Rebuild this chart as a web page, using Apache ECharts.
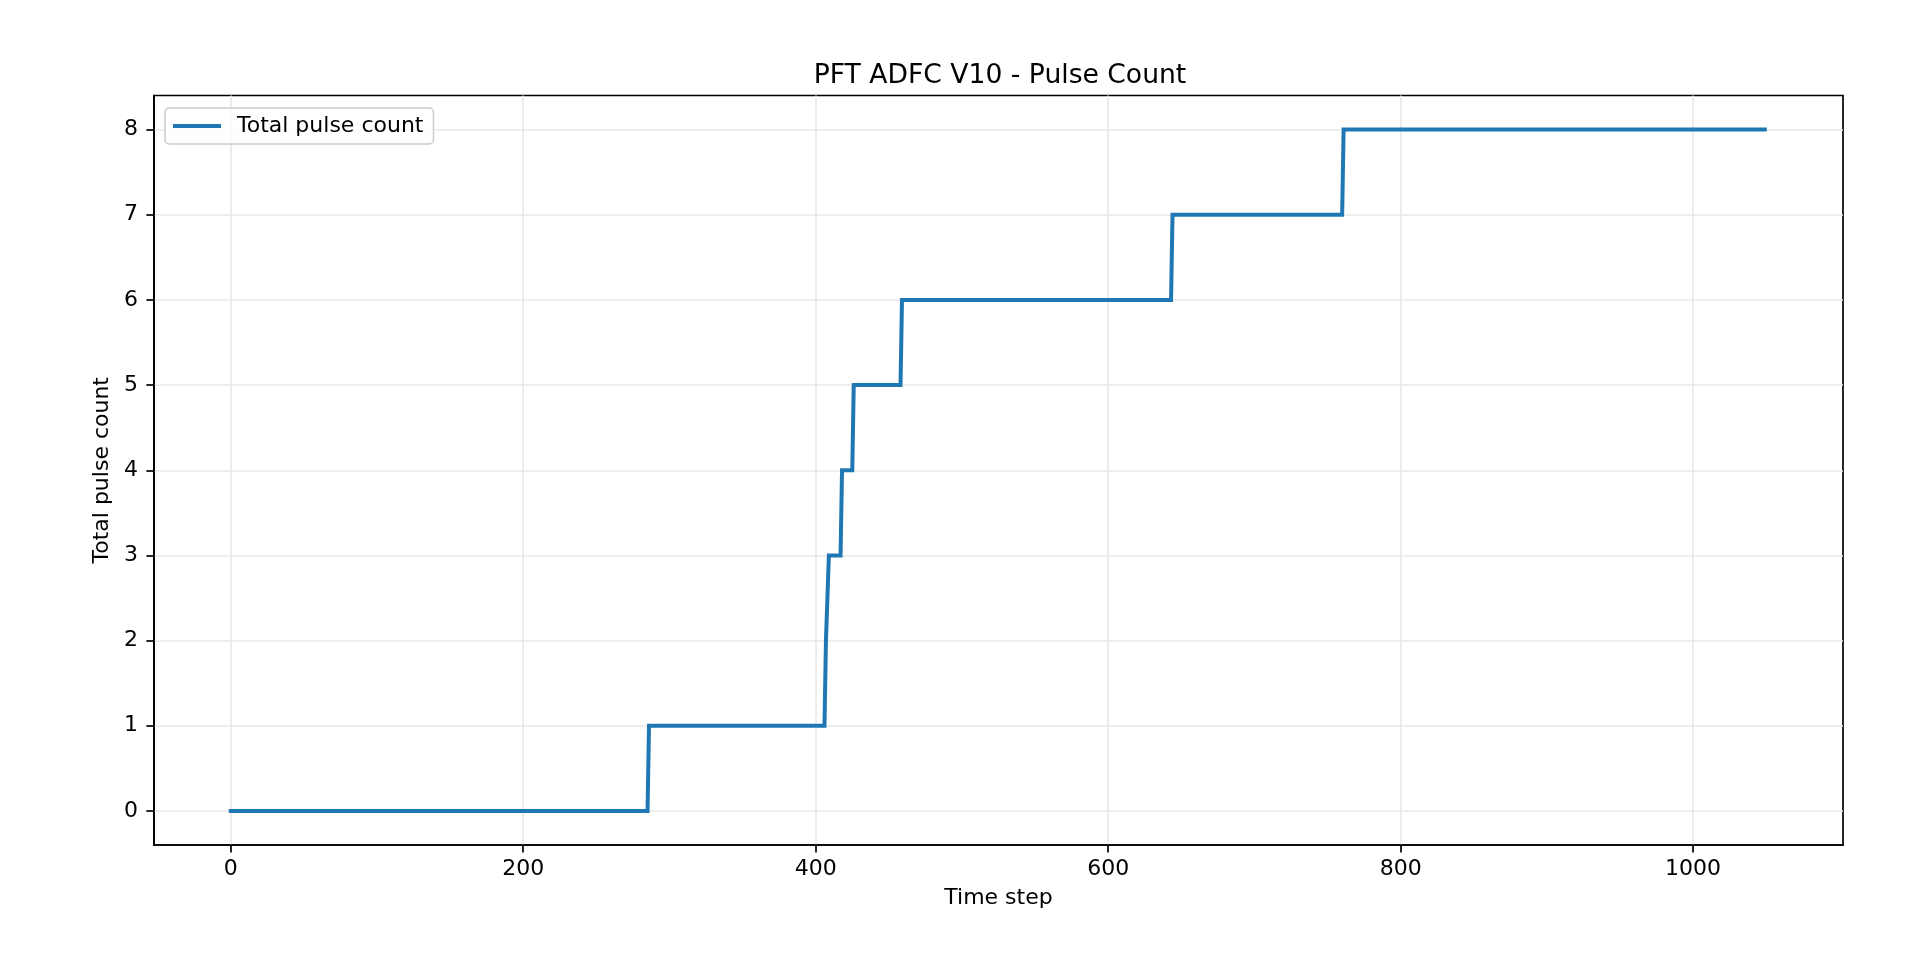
<!DOCTYPE html>
<html>
<head>
<meta charset="utf-8">
<script src="https://cdn.jsdelivr.net/npm/echarts@6/dist/echarts.min.js"></script>
<style>
html,body{margin:0;padding:0;background:#fff;}
#chart{width:1920px;height:960px;}
</style>
</head>
<body>
<div id="chart"></div>
<script>
// Time steps at which each new pulse count level begins
const levelStart = [0, 286, 407, 409, 418, 426, 459, 644, 761];
const levelCount = [0, 1, 2, 3, 4, 5, 6, 7, 8];
const lastStep = 1049;
const xTicks = [0, 200, 400, 600, 800, 1000];
const yTicks = [0, 1, 2, 3, 4, 5, 6, 7, 8];

const points = [];
for (let i = 0; i < levelStart.length; i++) {
  const end = i + 1 < levelStart.length ? levelStart[i + 1] - 1 : lastStep;
  points.push([levelStart[i], levelCount[i]]);
  if (end !== levelStart[i]) points.push([end, levelCount[i]]);
}

const FONT = 'DejaVu Sans';
const FS = 22;
const chart = echarts.init(document.getElementById('chart'), null, {renderer: 'canvas'});
chart.setOption({
  animation: false,
  backgroundColor: '#ffffff',
  textStyle: {fontFamily: FONT, color: '#000'},
  title: {
    text: 'PFT ADFC V10 - Pulse Count',
    left: 995,
    textAlign: 'center',
    top: 58,
    textStyle: {fontFamily: FONT, fontSize: 26.6, fontWeight: 'normal', color: '#000'}
  },
  legend: {
    left: 165,
    top: 108,
    icon: 'rect',
    itemWidth: 48,
    itemHeight: 4,
    padding: [7, 10, 7, 8],
    borderColor: '#cccccc',
    borderWidth: 1.5,
    borderRadius: 4,
    backgroundColor: 'rgba(255,255,255,0.8)',
    textStyle: {fontFamily: FONT, fontSize: FS, color: '#000', padding: [0, 0, 0, 11]},
    data: ['Total pulse count']
  },
  grid: {
    left: 154, right: 77, top: 95.5, bottom: 115,
    show: true, borderColor: '#000', borderWidth: 1.7, backgroundColor: 'transparent',
    containLabel: false
  },
  xAxis: {
    type: 'value',
    min: -52.5,
    max: 1102.5,
    name: 'Time step',
    nameLocation: 'middle',
    nameGap: 42,
    nameTextStyle: {fontFamily: FONT, fontSize: FS, color: '#000'},
    axisLine: {show: true, onZero: false, lineStyle: {color: '#000', width: 1.7}},
    axisTick: {show: true, customValues: xTicks, length: 7.6, lineStyle: {color: '#000', width: 1.7}},
    axisLabel: {customValues: xTicks, margin: 13, fontFamily: FONT, fontSize: FS, color: '#000',
      formatter: function (v) { return String(v); }},
    splitLine: {show: true, lineStyle: {color: '#e8e8e8', width: 1.6}}
  },
  yAxis: {
    type: 'value',
    min: -0.4,
    max: 8.4,
    name: 'Total pulse count',
    nameLocation: 'middle',
    nameGap: 41,
    nameTextStyle: {fontFamily: FONT, fontSize: FS, color: '#000'},
    axisLine: {show: true, onZero: false, lineStyle: {color: '#000', width: 1.7}},
    axisTick: {show: true, customValues: yTicks, length: 7.6, lineStyle: {color: '#000', width: 1.7}},
    axisLabel: {customValues: yTicks, margin: 16, fontFamily: FONT, fontSize: FS, color: '#000',
      formatter: function (v) { return String(v); }},
    splitLine: {show: true, lineStyle: {color: '#e8e8e8', width: 1.6}}
  },
  series: [{
    name: 'Total pulse count',
    type: 'line',
    data: points,
    showSymbol: false,
    symbol: 'none',
    color: '#1f77b4',
    lineStyle: {color: '#1f77b4', width: 4, join: 'miter', cap: 'square'}
  }]
});
</script>
</body>
</html>
